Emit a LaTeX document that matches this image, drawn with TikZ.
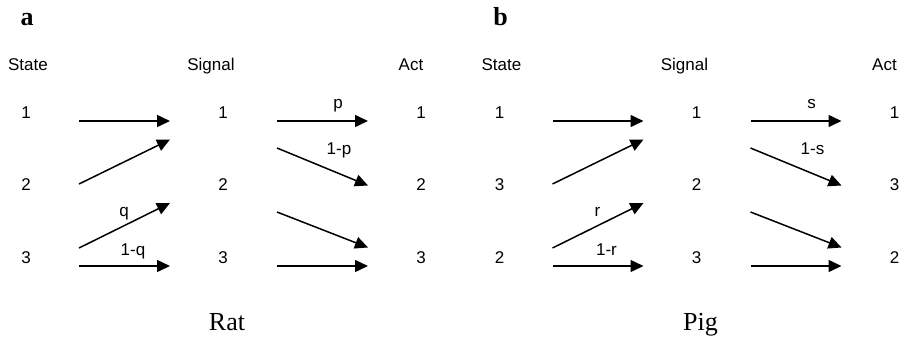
\documentclass[tikz,border=0pt]{standalone}
\usepackage{fontspec}
\setmainfont{Liberation Serif}
\newfontfamily\labfont{Liberation Sans}
\usetikzlibrary{arrows.meta}
\newcommand{\mypanel}[8]{%
  \node[hdr] (letter) at (27,25) {\textbf{#1}};
  \node[lbl] (hstate) at (28,70.7) {State};
  \node[lbl] (hsignal) at (211,70.7) {Signal};
  \node[lbl] (hact) at (411,70.7) {Act};
  \node[lbl] (st1) at (26,118.3) {1};
  \node[lbl] (st2) at (26,190.7) {#2};
  \node[lbl] (st3) at (26,263.3) {#3};
  \node[lbl] (sg1) at (223,118.3) {1};
  \node[lbl] (sg2) at (223,190.7) {2};
  \node[lbl] (sg3) at (223,263.3) {3};
  \node[lbl] (ac1) at (421,118.3) {1};
  \node[lbl] (ac2) at (421,190.7) {#2};
  \node[lbl] (ac3) at (421,263.3) {#3};
  \coordinate (la1) at (79,121);  \coordinate (lb1) at (170,121);
  \coordinate (la2) at (79,184);  \coordinate (lb2) at (170,139.5);
  \coordinate (la3) at (79,248);  \coordinate (lb3) at (170,203);
  \coordinate (la4) at (79,266);  \coordinate (lb4) at (170,266);
  \coordinate (ra1) at (277,121); \coordinate (rb1) at (368,121);
  \coordinate (ra2) at (277,148); \coordinate (rb2) at (368,185.5);
  \coordinate (ra3) at (277,212); \coordinate (rb3) at (368,247.5);
  \coordinate (ra4) at (277,266); \coordinate (rb4) at (368,266);
  \draw[arr] (la1) -- (lb1);
  \draw[arr] (la2) -- (lb2);
  \draw[arr] (la3) -- (lb3);
  \draw[arr] (la4) -- (lb4);
  \draw[arr] (ra1) -- (rb1);
  \draw[arr] (ra2) -- (rb2);
  \draw[arr] (ra3) -- (rb3);
  \draw[arr] (ra4) -- (rb4);
  \node[lbl] (pl) at (338,108) {#4};
  \node[lbl] (ppl) at (339,154) {#5};
  \node[lbl] (ql) at (124,216.7) {#6};
  \node[lbl] (qql) at (133,255) {#7};
  \node[captxt] (caption) at (227,330.7) {#8};
}
\begin{document}
\begin{tikzpicture}[x=1pt,y=-1pt,
  lbl/.style={font=\labfont\fontsize{17}{17}\selectfont, inner sep=0pt, anchor=base},
  hdr/.style={font=\fontsize{26}{26}\selectfont, inner sep=0pt, anchor=base},
  captxt/.style={font=\fontsize{26}{26}\selectfont, inner sep=0pt, anchor=base},
  arr/.style={line width=1.5pt, -{Triangle[length=13pt,width=12pt]}}]
\useasboundingbox (0,0) rectangle (903,338);
\begin{scope}[name prefix=a-]
  \mypanel{a}{2}{3}{p}{1-p}{q}{1-q}{Rat}
\end{scope}
\begin{scope}[xshift=473.5pt, name prefix=b-]
  \mypanel{b}{3}{2}{s}{1-s}{r}{1-r}{Pig}
\end{scope}
\end{tikzpicture}
\end{document}
